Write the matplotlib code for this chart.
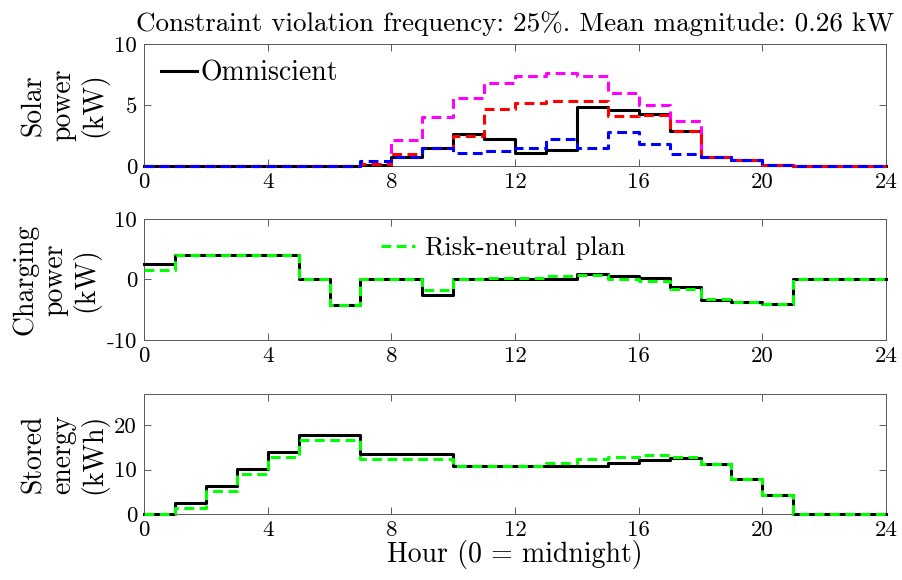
import numpy as np
import matplotlib
matplotlib.use("Agg")
import matplotlib.pyplot as plt

# -----------------------------
# Hourly data (value held over [h, h+1))
# -----------------------------
hours = np.arange(25)

solar_omniscient = [0, 0, 0, 0, 0, 0, 0, 0.1, 0.7, 1.5, 2.6, 2.2,
                    1.1, 1.3, 4.85, 4.6, 4.3, 2.9, 0.75, 0.5, 0.1, 0, 0, 0]
solar_magenta = [0, 0, 0, 0, 0, 0, 0, 0.2, 2.1, 4.0, 5.6, 6.8,
                 7.4, 7.6, 7.4, 6.0, 5.0, 3.7, 0.75, 0.5, 0.1, 0, 0, 0]
solar_red = [0, 0, 0, 0, 0, 0, 0, 0.2, 1.0, 1.5, 2.5, 4.7,
             5.2, 5.3, 5.35, 4.1, 4.2, 2.9, 0.75, 0.5, 0.1, 0, 0, 0]
solar_blue = [0, 0, 0, 0, 0, 0, 0, 0.4, 0.7, 1.5, 1.1, 1.2,
              1.45, 2.2, 1.5, 2.75, 1.8, 1.0, 0.75, 0.5, 0.1, 0, 0, 0]

charge_omniscient = [2.55, 4, 4, 4, 4, 0, -4.2, 0, 0, -2.5, 0, 0,
                     0, 0, 0.83, 0.55, 0.28, -1.2, -3.45, -3.7, -4.05, 0, 0, 0]
charge_plan = [1.55, 4, 4, 4, 4, 0, -4.2, 0, 0, -1.8, 0, 0.25,
               0.3, 0.65, 0.75, 0.15, -0.3, -1.55, -3.3, -3.7, -4.05, 0, 0, 0]

stored_omniscient = [0, 2.5, 6.3, 10.1, 13.9, 17.7, 17.7, 13.4, 13.4, 13.4, 10.8, 10.8,
                     10.8, 10.8, 10.8, 11.5, 12.2, 12.7, 11.2, 7.8, 4.3, 0, 0, 0]
stored_plan = [0, 1.3, 5.2, 9.0, 12.9, 16.6, 16.6, 12.4, 12.4, 12.4, 10.7, 10.7,
               10.8, 11.4, 12.4, 12.9, 13.2, 12.8, 11.2, 7.8, 4.3, 0, 0, 0]

x_ticks = [0, 4, 8, 12, 16, 20, 24]
title_text = "Constraint violation frequency: 25%. Mean magnitude: 0.26 kW"

# -----------------------------
# Style: LaTeX-like Computer Modern text
# -----------------------------
plt.rcParams["font.family"] = "serif"
plt.rcParams["font.serif"] = ["cmr10", "DejaVu Serif"]
plt.rcParams["mathtext.fontset"] = "cm"
plt.rcParams["axes.unicode_minus"] = False

FS_TICK = 16.5
FS_LABEL = 20
FS_TITLE = 19.5
LW = 2.2
DASH = (3.2, 1.8)


def stairs(ax, values, **kw):
    y = list(values) + [values[-1]]
    return ax.step(hours, y, where="post", linewidth=LW, clip_on=False, zorder=3, **kw)[0]


def style_axes(ax, yticks, ylim, label, label_x):
    ax.set_xlim(0, 24)
    ax.set_ylim(*ylim)
    ax.set_xticks(x_ticks)
    ax.set_xticklabels([str(t) for t in x_ticks])
    ax.set_yticks(yticks)
    ax.set_yticklabels([str(t) for t in yticks])
    ax.tick_params(direction="in", top=True, right=True, labelsize=FS_TICK,
                   length=5, width=0.6, color="0.25", pad=5)
    for s in ax.spines.values():
        s.set_color("0.35")
        s.set_linewidth(0.7)
    ax.set_ylabel(label, fontsize=FS_LABEL, linespacing=1.15)
    ax.yaxis.set_label_coords(label_x, 0.5)


fig = plt.figure(figsize=(9.02, 5.80), dpi=100)
left, width = 144 / 902, 742 / 902
ax1 = fig.add_axes([left, 1 - 166 / 580, width, 122 / 580])
ax2 = fig.add_axes([left, 1 - 340 / 580, width, 121 / 580])
ax3 = fig.add_axes([left, 1 - 514 / 580, width, 120 / 580])

# panel 1: solar power
h_omni = stairs(ax1, solar_omniscient, color="black", label="Omniscient")
stairs(ax1, solar_magenta, color="magenta", dashes=DASH)
stairs(ax1, solar_red, color="red", dashes=DASH)
stairs(ax1, solar_blue, color="blue", dashes=DASH)
style_axes(ax1, [0, 5, 10], (0, 10), "Solar\npower\n(kW)", -0.048)
ax1.set_title(title_text, fontsize=FS_TITLE, pad=9)
ax1.legend(handles=[h_omni], loc="upper left", frameon=False, fontsize=FS_LABEL,
           handlelength=1.3, handletextpad=0.15, borderaxespad=0.2)

# panel 2: charging power
stairs(ax2, charge_omniscient, color="black")
h_plan = stairs(ax2, charge_plan, color=(0, 1, 0), dashes=DASH, label="Risk-neutral plan")
style_axes(ax2, [-10, 0, 10], (-10, 10), "Charging\npower\n(kW)", -0.059)
ax2.legend(handles=[h_plan], loc="upper center", bbox_to_anchor=(0.484, 1.0),
           frameon=False, fontsize=19,
           handlelength=1.3, handletextpad=0.35, borderaxespad=0.25)

# panel 3: stored energy
stairs(ax3, stored_omniscient, color="black")
stairs(ax3, stored_plan, color=(0, 1, 0), dashes=DASH)
style_axes(ax3, [0, 10, 20], (0, 27), "Stored\nenergy\n(kWh)", -0.048)
ax3.set_xlabel("Hour (0 = midnight)", fontsize=FS_LABEL, labelpad=0)

fig.savefig("out.png", dpi=100)
